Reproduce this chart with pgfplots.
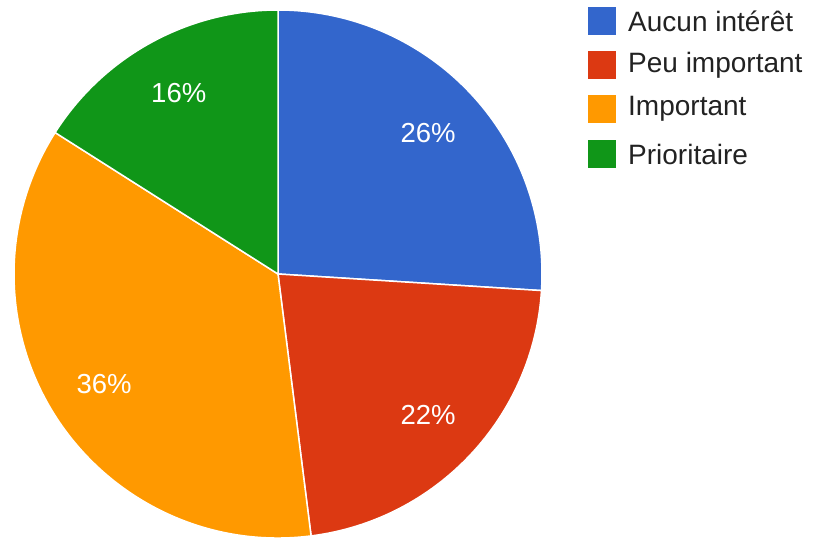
\documentclass[border=0pt]{standalone}
\usepackage{pgfplots}
\usepackage{pgfplotstable}
\pgfplotsset{compat=1.18}
\usepackage{fontspec}
\setmainfont{Liberation Sans}
\definecolor{pieblue}{HTML}{3366CC}
\definecolor{piered}{HTML}{DC3912}
\definecolor{pieorange}{HTML}{FF9900}
\definecolor{piegreen}{HTML}{109618}
\definecolor{legtext}{HTML}{222222}
\pgfplotstableread{
value
26
22
36
16
}\piedata
\begin{document}
\begin{tikzpicture}
\pgfplotstablegetelem{0}{value}\of\piedata \let\vA\pgfplotsretval
\pgfplotstablegetelem{1}{value}\of\piedata \let\vB\pgfplotsretval
\pgfplotstablegetelem{2}{value}\of\piedata \let\vC\pgfplotsretval
\pgfplotstablegetelem{3}{value}\of\piedata \let\vD\pgfplotsretval
\pgfmathsetmacro\sA{90}
\pgfmathsetmacro\eA{\sA-3.6*\vA}
\pgfmathsetmacro\eB{\eA-3.6*\vB}
\pgfmathsetmacro\eC{\eB-3.6*\vC}
\pgfmathsetmacro\eD{\eC-3.6*\vD}
\pgfmathsetmacro\mA{(\sA+\eA)/2}
\pgfmathsetmacro\mB{(\eA+\eB)/2}
\pgfmathsetmacro\mC{(\eB+\eC)/2}
\pgfmathsetmacro\mD{(\eC+\eD)/2}
\pgfmathsetmacro\R{264}
\pgfmathsetmacro\Rl{206}
\begin{axis}[
  x=1pt, y=1pt, xmin=0, xmax=813, ymin=0, ymax=538,
  scale only axis, hide axis, clip=false,
  at={(0,0)}, anchor=origin,
]
\addplot[draw=none, forget plot] coordinates {(0,0) (813,538)};
\fill[pieblue, draw=white, line width=1.5pt] (axis cs:278,264) -- ++(\sA:\R pt) arc[start angle=\sA, end angle=\eA, radius=\R pt] -- cycle;
\fill[piered, draw=white, line width=1.5pt] (axis cs:278,264) -- ++(\eA:\R pt) arc[start angle=\eA, end angle=\eB, radius=\R pt] -- cycle;
\fill[pieorange, draw=white, line width=1.5pt] (axis cs:278,264) -- ++(\eB:\R pt) arc[start angle=\eB, end angle=\eC, radius=\R pt] -- cycle;
\fill[piegreen, draw=white, line width=1.5pt] (axis cs:278,264) -- ++(\eC:\R pt) arc[start angle=\eC, end angle=\eD, radius=\R pt] -- cycle;
\path (axis cs:278,264) ++(\mA:\Rl pt) node[white, font=\fontsize{27.5}{32}\selectfont] {\vA\%};
\path (axis cs:278,264) ++(\mB:\Rl pt) node[white, font=\fontsize{27.5}{32}\selectfont] {\vB\%};
\path (axis cs:278,264) ++(\mC:\Rl pt) node[white, font=\fontsize{27.5}{32}\selectfont] {\vC\%};
\path (axis cs:278,264) ++(\mD:\Rl pt) node[white, font=\fontsize{27.5}{32}\selectfont] {\vD\%};
% legend
\fill[pieblue] (axis cs:588,503) rectangle (axis cs:616,531);
\fill[piered] (axis cs:588,459) rectangle (axis cs:616,487);
\fill[pieorange] (axis cs:588,415) rectangle (axis cs:616,443);
\fill[piegreen] (axis cs:588,370) rectangle (axis cs:616,398);
\node[anchor=west, inner sep=0pt, text=legtext, font=\fontsize{28}{32}\selectfont] at (axis cs:628,517) {Aucun intérêt};
\node[anchor=west, inner sep=0pt, text=legtext, font=\fontsize{28}{32}\selectfont] at (axis cs:628,473) {Peu important};
\node[anchor=west, inner sep=0pt, text=legtext, font=\fontsize{28}{32}\selectfont] at (axis cs:628,429) {Important};
\node[anchor=west, inner sep=0pt, text=legtext, font=\fontsize{28}{32}\selectfont] at (axis cs:628,384) {Prioritaire};
\end{axis}
\end{tikzpicture}
\end{document}
